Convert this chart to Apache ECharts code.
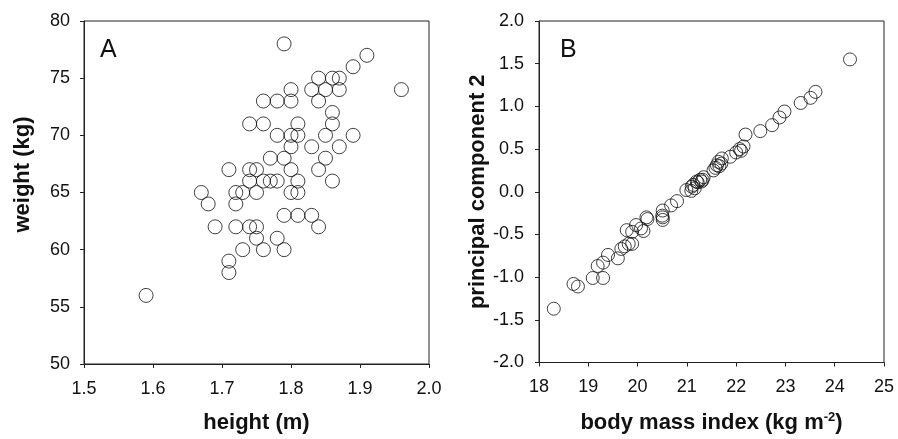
<!DOCTYPE html>
<html>
<head>
<meta charset="utf-8">
<script src="https://cdn.jsdelivr.net/npm/echarts@6/dist/echarts.min.js"></script>
<style>
* { margin: 0; padding: 0; }
body { background: #fff; }
</style>
</head>
<body>
<div id="main" style="width:898px;height:439px;background:white;"></div>
<script>
// panel A: height (m) vs weight (kg)
var heightA = [1.79, 1.91, 1.89, 1.84, 1.86, 1.87, 1.96, 1.80, 1.83, 1.85, 1.87,
  1.76, 1.78, 1.80, 1.84, 1.86, 1.74, 1.76, 1.81, 1.86, 1.78, 1.80, 1.81, 1.85, 1.89,
  1.80, 1.83, 1.87, 1.77, 1.79, 1.85, 1.71, 1.74, 1.75, 1.80, 1.84,
  1.74, 1.76, 1.77, 1.78, 1.81, 1.86, 1.67, 1.72, 1.73, 1.75, 1.80, 1.81,
  1.68, 1.72, 1.79, 1.81, 1.83, 1.69, 1.72, 1.74, 1.75, 1.84,
  1.75, 1.78, 1.73, 1.76, 1.79, 1.71, 1.71, 1.59];
var weightA = [78, 77, 76, 75, 75, 75, 74, 74, 74, 74, 74,
  73, 73, 73, 73, 72, 71, 71, 71, 71, 70, 70, 70, 70, 70,
  69, 69, 69, 68, 68, 68, 67, 67, 67, 67, 67,
  66, 66, 66, 66, 66, 66, 65, 65, 65, 65, 65, 65,
  64, 64, 63, 63, 63, 62, 62, 62, 62, 62,
  61, 61, 60, 60, 60, 59, 58, 56];

// panel B: body mass index vs principal component 2
var bmiB = [18.30, 18.70, 18.79, 19.09, 19.30, 19.19, 19.30, 19.40, 19.60, 19.67,
  19.74, 19.82, 19.89, 19.78, 19.89, 19.97, 20.07, 20.12, 20.20, 20.18,
  20.51, 20.51, 20.51, 20.50, 20.68, 20.80, 20.99, 21.09, 21.16, 21.22, 21.32,
  21.10, 21.13, 21.20, 21.27, 21.30, 21.34, 21.54, 21.58, 21.61, 21.64, 21.66,
  21.70, 21.71, 21.88, 22.00, 22.07, 22.10, 22.15, 22.19, 22.49, 22.73,
  22.88, 22.98, 23.31, 23.51, 23.61, 24.31];
var pc2B = [-1.37, -1.08, -1.11, -1.01, -1.01, -0.87, -0.83, -0.74, -0.78, -0.67,
  -0.64, -0.61, -0.61, -0.45, -0.47, -0.39, -0.43, -0.46, -0.32, -0.30,
  -0.22, -0.30, -0.33, -0.28, -0.16, -0.11, 0.02, 0.01, 0.04, 0.11, 0.14,
  0.06, 0.08, 0.12, 0.14, 0.12, 0.17, 0.25, 0.28, 0.31, 0.35, 0.30,
  0.33, 0.39, 0.41, 0.46, 0.50, 0.48, 0.53, 0.67, 0.71, 0.78,
  0.87, 0.94, 1.04, 1.10, 1.17, 1.55];

var xTicksA = [1.5, 1.6, 1.7, 1.8, 1.9, 2.0];
var yTicksA = [50, 55, 60, 65, 70, 75, 80];
var xTicksB = [18, 19, 20, 21, 22, 23, 24, 25];
var yTicksB = [-2.0, -1.5, -1.0, -0.5, 0.0, 0.5, 1.0, 1.5, 2.0];

var FONT = "Liberation Sans, Arial, sans-serif";

function pairs(xs, ys) {
  var out = [];
  for (var i = 0; i < xs.length; i++) out.push([xs[i], ys[i]]);
  return out;
}

var axisCommon = {
  axisLine: { onZero: false, lineStyle: { color: "#222", width: 1 } },
  axisTick: { show: true, inside: false, length: 4, lineStyle: { color: "#222" } },
  splitLine: { show: false },
  axisLabel: { color: "#111", fontSize: 18, fontFamily: FONT },
  nameTextStyle: { color: "#111", fontSize: 22, fontWeight: "bold", fontFamily: FONT },
  nameLocation: "middle"
};

function axis(extra) {
  return echarts.util.merge(echarts.util.clone(axisCommon), extra, true);
}

var chart = echarts.init(document.getElementById("main"));
chart.setOption({
  animation: false,
  grid: [
    { left: 84, top: 21, width: 345, height: 346, show: true, borderColor: "#222", borderWidth: 1, backgroundColor: "transparent" },
    { left: 539, top: 21, width: 345, height: 345, show: true, borderColor: "#222", borderWidth: 1, backgroundColor: "transparent" }
  ],
  xAxis: [
    axis({ gridIndex: 0, type: "value", min: 1.5, max: 2.0, interval: 0.1, name: "height (m)", nameGap: 48,
      axisLabel: { margin: 16, formatter: function (v) { return v.toFixed(1); } } }),
    axis({ gridIndex: 1, type: "value", min: 18, max: 25, interval: 1, nameGap: 48,
      name: "{n|body mass index (kg m}{s|-2}{n|)}",
      nameTextStyle: { rich: {
        n: { fontSize: 22, fontWeight: "bold", color: "#111", fontFamily: FONT },
        s: { fontSize: 13, fontWeight: "bold", color: "#111", verticalAlign: "top", padding: [0, 0, 12, 0], fontFamily: FONT }
      } },
      axisLabel: { margin: 16 } })
  ],
  yAxis: [
    axis({ gridIndex: 0, type: "value", min: 50, max: 80, interval: 5, name: "weight (kg)", nameGap: 50,
      nameTextStyle: { padding: [0, 0, 0, 36] },
      axisLabel: { margin: 14 } }),
    axis({ gridIndex: 1, type: "value", min: -2, max: 2, interval: 0.5, name: "principal component 2", nameGap: 32,
      axisLabel: { margin: 15, formatter: function (v) { return v.toFixed(1); } } })
  ],
  graphic: [
    { type: "text", left: 100, top: 38, style: { text: "A", fontSize: 25, fill: "#111", fontFamily: FONT } },
    { type: "text", left: 560, top: 38, style: { text: "B", fontSize: 25, fill: "#111", fontFamily: FONT } }
  ],
  series: [
    { type: "scatter", xAxisIndex: 0, yAxisIndex: 0, data: pairs(heightA, weightA),
      symbol: "circle", symbolSize: 14,
      itemStyle: { color: "transparent", borderColor: "#111", borderWidth: 1 } },
    { type: "scatter", xAxisIndex: 1, yAxisIndex: 1, data: pairs(bmiB, pc2B),
      symbol: "circle", symbolSize: 13,
      itemStyle: { color: "transparent", borderColor: "#111", borderWidth: 1 } }
  ]
});
</script>
</body>
</html>
